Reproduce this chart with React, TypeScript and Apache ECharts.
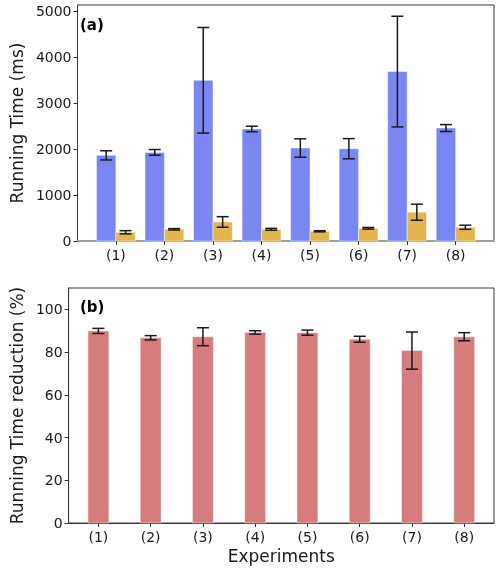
import React, { useEffect, useRef } from 'react';
import * as echarts from 'echarts';

const categories = ['(1)', '(2)', '(3)', '(4)', '(5)', '(6)', '(7)', '(8)'];
const blueMeans = [1865, 1930, 3500, 2440, 2025, 2010, 3690, 2460];
const blueErrs = [100, 62, 1150, 60, 200, 220, 1205, 75];
const yellowMeans = [190, 255, 415, 255, 212, 277, 627, 299];
const yellowErrs = [35, 15, 115, 20, 12, 18, 175, 45];
const reductionMeans = [89.9, 86.7, 87.2, 89.2, 89.1, 86.0, 80.7, 87.2];
const reductionErrs = [1.2, 1.0, 4.2, 0.8, 1.2, 1.4, 8.7, 1.9];
const topTicks = [0, 1000, 2000, 3000, 4000, 5000];
const bottomTicks = [0, 20, 40, 60, 80, 100];

const FONT = 'DejaVu Sans';
const TXT = '#1a1a1a';

const barRender = (width: number, color: string) => (params: any, api: any) => {
  const x = api.value(0);
  const y = api.value(1);
  const p0 = api.coord([x - width / 2, y]);
  const p1 = api.coord([x + width / 2, 0]);
  return {
    type: 'rect',
    shape: { x: p0[0], y: p0[1], width: p1[0] - p0[0], height: p1[1] - p0[1] },
    style: { fill: color, stroke: 'rgba(255,255,255,0.45)', lineWidth: 1 },
  };
};

const errRender = (params: any, api: any) => {
  const x = api.value(0);
  const y = api.value(1);
  const e = api.value(2);
  const t = api.coord([x, y + e]);
  const b = api.coord([x, y - e]);
  const cap = 6;
  const st = { stroke: '#1a1a1a', lineWidth: 1.5 };
  return {
    type: 'group',
    children: [
      { type: 'line', shape: { x1: t[0], y1: t[1], x2: b[0], y2: b[1] }, style: st },
      { type: 'line', shape: { x1: t[0] - cap, y1: t[1], x2: t[0] + cap, y2: t[1] }, style: st },
      { type: 'line', shape: { x1: b[0] - cap, y1: b[1], x2: b[0] + cap, y2: b[1] }, style: st },
    ],
  };
};

export default function App() {
  const ref = useRef<HTMLDivElement>(null);
  useEffect(() => {
    if (!ref.current) return;
    const chart = echarts.init(ref.current, undefined, { renderer: 'svg' });
    const idx = categories.map((_, i) => i);
    const blueData = blueMeans.map((v, i) => [i - 0.2, v, blueErrs[i]]);
    const yellowData = yellowMeans.map((v, i) => [i + 0.2, v, yellowErrs[i]]);
    const redData = reductionMeans.map((v, i) => [i, v, reductionErrs[i]]);

    const xAxisBase = (min: number, max: number, gi: number, lineColor: string, lineWidth: number, name?: string) => ({
      type: 'value',
      gridIndex: gi,
      min,
      max,
      splitLine: { show: false },
      axisLine: { show: true, onZero: false, lineStyle: { color: lineColor, width: lineWidth } },
      axisTick: { show: true, customValues: idx, length: 4, lineStyle: { color: '#333' } },
      axisLabel: {
        customValues: idx,
        formatter: (v: number) => categories[Math.round(v)],
        fontSize: 14,
        fontFamily: FONT,
        color: TXT,
        margin: 7,
      },
      name,
      nameLocation: 'middle',
      nameGap: 24,
      nameTextStyle: { fontSize: 17, fontFamily: FONT, color: TXT },
    });

    const yAxisBase = (max: number, ticks: number[], gi: number, name: string, gap: number) => ({
      type: 'value',
      gridIndex: gi,
      min: 0,
      max,
      splitLine: { show: false },
      axisLine: { show: true, onZero: false, lineStyle: { color: '#3a3a3a', width: 1 } },
      axisTick: { show: true, customValues: ticks, length: 4, lineStyle: { color: '#333' } },
      axisLabel: {
        customValues: ticks,
        formatter: (v: number) => String(v),
        fontSize: 14,
        fontFamily: FONT,
        color: TXT,
        margin: 6,
      },
      name,
      nameLocation: 'middle',
      nameGap: gap,
      nameTextStyle: { fontSize: 17, fontFamily: FONT, color: TXT },
    });

    chart.setOption({
      animation: false,
      textStyle: { fontFamily: FONT },
      grid: [
        { left: 68, top: 5, width: 426, height: 236, show: true, borderColor: '#3a3a3a', borderWidth: 1, backgroundColor: 'transparent' },
        { left: 68, top: 288, width: 426, height: 235, show: true, borderColor: '#3a3a3a', borderWidth: 1, backgroundColor: 'transparent' },
      ],
      xAxis: [
        xAxisBase(-0.79, 7.79, 0, '#a0a0a0', 2),
        xAxisBase(-0.57, 7.57, 1, '#3a3a3a', 1, 'Experiments'),
      ],
      yAxis: [
        yAxisBase(5140, topTicks, 0, 'Running Time (ms)', 45),
        yAxisBase(110, bottomTicks, 1, 'Running Time reduction (%)', 36),
      ],
      graphic: [
        { type: 'text', left: 80, top: 17, style: { text: '(a)', font: `bold 15px "${FONT}"`, fill: '#000' } },
        { type: 'text', left: 80, top: 299, style: { text: '(b)', font: `bold 15px "${FONT}"`, fill: '#000' } },
      ],
      series: [
        { type: 'custom', xAxisIndex: 0, yAxisIndex: 0, data: blueData, encode: { x: 0, y: 1 }, renderItem: barRender(0.4, '#7987f2'), z: 2 },
        { type: 'custom', xAxisIndex: 0, yAxisIndex: 0, data: yellowData, encode: { x: 0, y: 1 }, renderItem: barRender(0.4, '#e2b64c'), z: 2 },
        { type: 'custom', xAxisIndex: 0, yAxisIndex: 0, data: blueData, encode: { x: 0, y: 1 }, renderItem: errRender, z: 3 },
        { type: 'custom', xAxisIndex: 0, yAxisIndex: 0, data: yellowData, encode: { x: 0, y: 1 }, renderItem: errRender, z: 3 },
        { type: 'custom', xAxisIndex: 1, yAxisIndex: 1, data: redData, encode: { x: 0, y: 1 }, renderItem: barRender(0.4, '#d77c7c'), z: 2 },
        { type: 'custom', xAxisIndex: 1, yAxisIndex: 1, data: redData, encode: { x: 0, y: 1 }, renderItem: errRender, z: 3 },
      ],
    });
    return () => chart.dispose();
  }, []);
  return <div ref={ref} style={{ position: 'fixed', left: 0, top: 0, width: 500, height: 569 }} />;
}
